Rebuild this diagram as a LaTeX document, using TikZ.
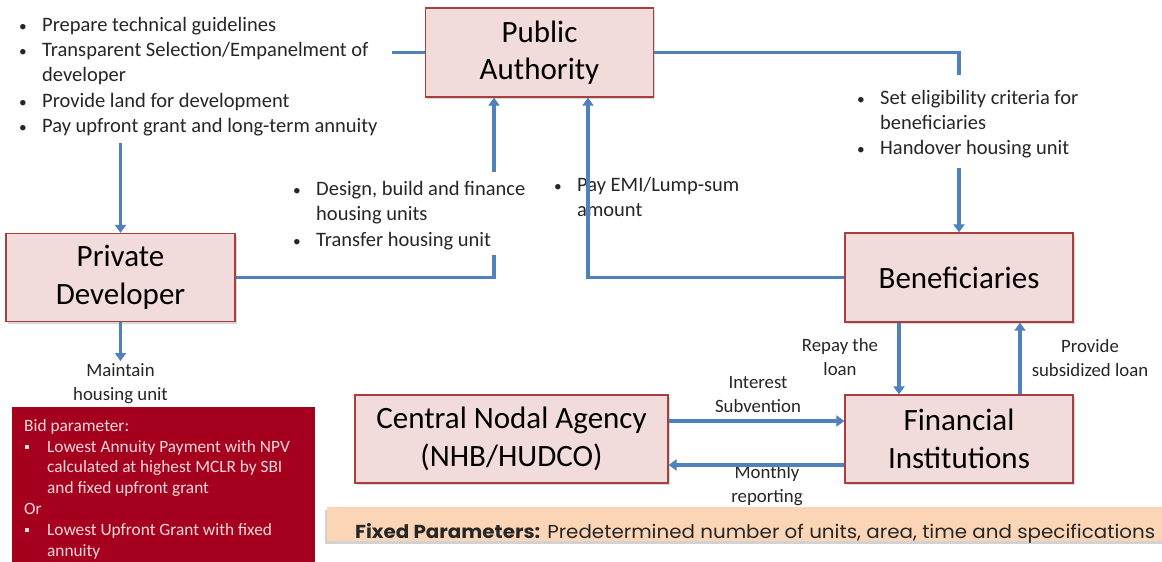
\documentclass[tikz,border=0pt]{standalone}
\usepackage{fontspec}
\setmainfont{Carlito}
\newfontfamily\gothic{Poppins}
\usetikzlibrary{arrows.meta,shadows,calc}
\definecolor{boxfill}{HTML}{F2DCDB}
\definecolor{boxline}{HTML}{A5403E}
\definecolor{flow}{HTML}{4F81BD}
\definecolor{bidred}{HTML}{A6001F}
\definecolor{bidtext}{HTML}{F6D9D9}
\definecolor{fixfill}{HTML}{FBD5B5}
\definecolor{txtgray}{HTML}{262626}
\newcommand\bulA{\makebox[23pt][l]{\scalebox{0.75}{\textbullet}}}
\newcommand\indA{\hspace*{23pt}}
\newcommand\bulB{\makebox[23pt][l]{\hspace{1pt}\raisebox{3.5pt}{\rule{4pt}{4pt}}}}
\tikzset{
  ent/.style={draw=boxline, fill=boxfill, line width=1.3pt, inner sep=0pt, align=center,
    font=\fontsize{31}{37.5}\selectfont, text=black,
    drop shadow={shadow xshift=1.5pt, shadow yshift=-2pt, opacity=0.3}},
  flowline/.style={draw=flow, line width=3.5pt},
  flowarrow/.style={flowline, -{Triangle[width=11pt,length=8pt]}},
  bullets/.style={inner sep=0pt, align=left, anchor=west, text=txtgray,
    font=\fontsize{20.5}{25.3}\selectfont},
  lbl/.style={inner sep=0pt, align=center, text=txtgray, font=\fontsize{18.8}{24}\selectfont},
}
\begin{document}
\begin{tikzpicture}[x=1pt,y=-1pt]
\useasboundingbox[fill=white] (0,0) rectangle (1162,562);

% entity boxes
\node[ent, minimum width=228pt, minimum height=89pt] (PA) at (539.5,52.5) {Public\\Authority};
\node[ent, minimum width=229pt, minimum height=88pt] (PD) at (120.5,277.5) {Private\\Developer};
\node[ent, minimum width=228pt, minimum height=89pt] (Ben) at (959,277.5) {Beneficiaries};
\node[ent, minimum width=228pt, minimum height=88pt] (FI) at (959,439) {Financial\\Institutions};
\node[ent, minimum width=313pt, minimum height=88pt] (CNA) at (511.5,439) {Central Nodal Agency\\(NHB/HUDCO)};

% bullet texts
\node[bullets] (paTasks) at (19,76.5) {\bulA Prepare technical guidelines\\
\bulA Transparent Selection/Empanelment of\\
\indA developer\\
\bulA Provide land for development\\
\bulA Pay upfront grant and long-term annuity};
\node[bullets] (pdTasks) at (293,215.5) {\bulA Design, build and finance\\
\indA housing units\\
\bulA Transfer housing unit};
\node[bullets] (emiTask) at (554,197) {\bulA Pay EMI/Lump-sum\\
\indA amount};
\node[bullets] (benTasks) at (857,124) {\bulA Set eligibility criteria for\\
\indA beneficiaries\\
\bulA Handover housing unit};

% labels
\node[lbl] (maint) at (120.5,384) {Maintain\\housing unit};
\node[lbl] (subv) at (758,395) {Interest\\Subvention};
\node[lbl] (monthly) at (767,485.5) {Monthly\\reporting};
\node[lbl] (repay) at (840,357) {Repay the\\loan};
\node[lbl] (provide) at (1090,358) {Provide\\subsidized loan};

% coordinates for free ends
\coordinate (paL) at (392,52.5);
\coordinate (paR) at (959,75);
\coordinate (benIn) at (959,168);
\coordinate (pdIn) at (120.5,143);
\coordinate (pdR) at (494,255);
\coordinate (pdUp) at (494,172);
\coordinate (maintEnd) at (120.5,361);

% connectors
\draw[flowline] (PA.west) -- (paL);
\draw[flowarrow] (pdIn) -- (PD.north);
\draw[flowline] (PA.east) -| (paR);
\draw[flowarrow] (benIn) -- (Ben.north);
\draw[flowline] (PD.east) -| (pdR);
\draw[flowarrow] (pdUp) -- (pdUp |- PA.south);
\draw[flowarrow] (Ben.west) -| ([xshift=48.5pt]PA.south);
\draw[flowarrow] ([xshift=-60pt]Ben.south) -- ([xshift=-60pt]FI.north);
\draw[flowarrow] ([xshift=61pt]FI.north) -- ([xshift=61pt]Ben.south);
\draw[flowarrow] ([yshift=18pt]CNA.east) -- ([yshift=18pt]FI.west);
\draw[flowarrow] ([yshift=-26pt]FI.west) -- ([yshift=-26pt]CNA.east);
\draw[flowarrow] (PD.south) -- (maintEnd);

% bid parameter box
\node[fill=bidred, minimum width=303pt, minimum height=165pt, inner sep=0pt] (bid) at (163.5,489.5) {};
\node[inner sep=0pt, align=left, anchor=west, text=bidtext, font=\fontsize{17.3}{20.8}\selectfont] (bidText) at (24,489)
{Bid parameter:\\
\bulB Lowest Annuity Payment with NPV\\
\indA calculated at highest MCLR by SBI\\
\indA and fixed upfront grant\\
Or\\
\bulB Lowest Upfront Grant with fixed\\
\indA annuity};

% fixed parameters box
\node[fill=fixfill, minimum width=840pt, minimum height=34pt, inner sep=0pt,
  drop shadow={shadow xshift=-2pt, shadow yshift=-3pt, opacity=0.35}] (fixed) at (747,524) {};
\node[inner sep=0pt, anchor=west, text=txtgray] (fixedText) at (355,533.5)
{\resizebox{800pt}{15pt}{\gothic\fontsize{17}{20}\selectfont\textbf{Fixed Parameters:} Predetermined number of units, area, time and specifications}};
\end{tikzpicture}
\end{document}
